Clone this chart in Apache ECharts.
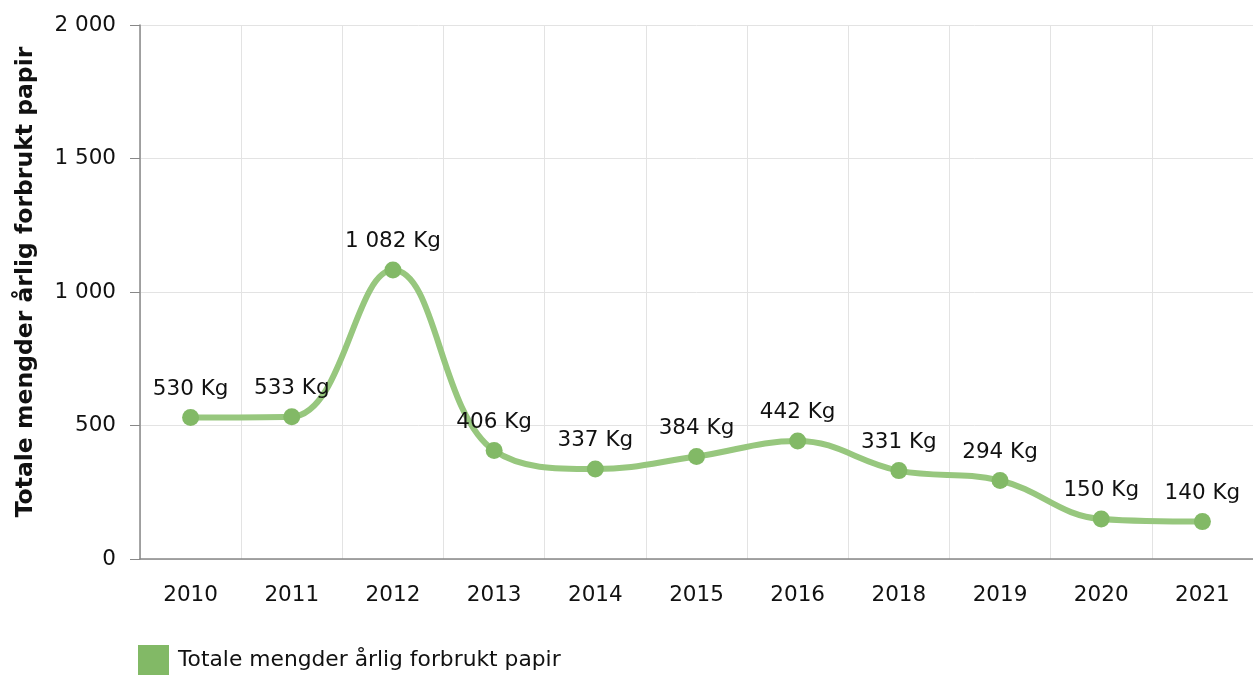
<!DOCTYPE html>
<html>
<head>
<meta charset="utf-8">
<script src="https://cdn.jsdelivr.net/npm/echarts@6/dist/echarts.min.js"></script>
<style>
  html, body { margin: 0; padding: 0; background: #fff; }
  #chart { width: 1253px; height: 675px; }
</style>
</head>
<body>
<div id="chart"></div>
<script>
const years = ['2010', '2011', '2012', '2013', '2014', '2015', '2016', '2018', '2019', '2020', '2021'];
const paperKg = [530, 533, 1082, 406, 337, 384, 442, 331, 294, 150, 140];
const seriesName = 'Totale mengder årlig forbrukt papir';
const axisTitle = 'Totale mengder årlig forbrukt papir';

// tusenskille med mellomrom, som "1 082"
function fmt (v) {
  return String(v).replace(/\B(?=(\d{3})+(?!\d))/g, ' ');
}

const font = 'Verdana, "DejaVu Sans", sans-serif';
const chart = echarts.init(document.getElementById('chart'));

chart.setOption({
  animation: false,
  textStyle: { fontFamily: font },
  grid: { left: 140, right: 0, top: 25, bottom: 116 },
  legend: {
    left: 133,
    top: 640,
    icon: 'rect',
    itemWidth: 31,
    itemHeight: 30,
    itemGap: 20,
    textStyle: { fontSize: 21.8, color: '#111', fontFamily: font, padding: [4, 0, 0, 4] },
    data: [seriesName]
  },
  xAxis: {
    type: 'category',
    data: years,
    boundaryGap: true,
    axisLine: { lineStyle: { color: '#888', width: 1.5 } },
    axisTick: { alignWithLabel: true, length: 9, lineStyle: { color: '#888' } },
    axisLabel: { margin: 25, fontSize: 21.5, color: '#111', fontFamily: font },
    splitLine: { show: true, lineStyle: { color: '#e3e3e3' } }
  },
  yAxis: {
    type: 'value',
    min: 0,
    max: 2000,
    interval: 500,
    name: axisTitle,
    nameLocation: 'middle',
    nameGap: 102,
    nameTextStyle: { fontSize: 23.5, fontWeight: 'bold', color: '#111', fontFamily: font, padding: [0, 0, 0, 20] },
    axisLine: { show: true, lineStyle: { color: '#888', width: 1.5 } },
    axisTick: { show: true, length: 10, lineStyle: { color: '#888' } },
    axisLabel: { margin: 24, fontSize: 21.5, color: '#111', fontFamily: font, formatter: fmt },
    splitLine: { lineStyle: { color: '#e3e3e3' } }
  },
  series: [
    {
      name: seriesName,
      type: 'line',
      data: paperKg,
      smooth: 0.4,
      symbol: 'circle',
      symbolSize: 17,
      itemStyle: { color: '#82b966' },
      lineStyle: { color: '#97c77e', width: 6 },
      label: {
        show: true,
        position: 'top',
        distance: 9,
        fontSize: 21.5,
        color: '#111',
        fontFamily: font,
        formatter: p => fmt(p.value) + ' Kg'
      }
    }
  ]
});
</script>
</body>
</html>
